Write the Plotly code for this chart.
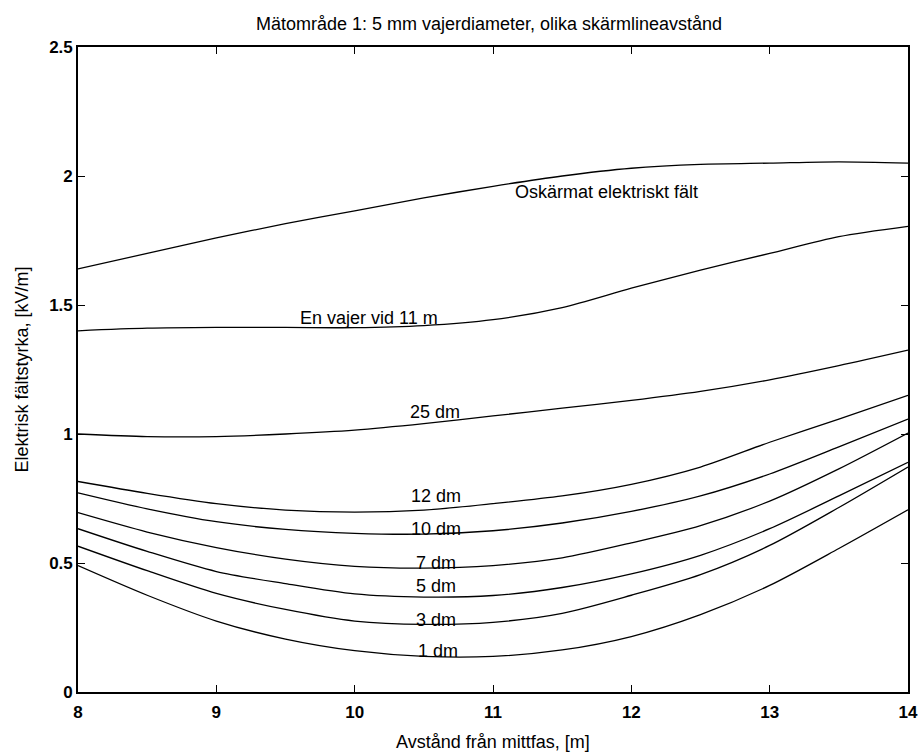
import plotly.graph_objects as go

x_vals = [8, 8.5, 9, 9.5, 10, 10.5, 11, 11.5, 12, 12.5, 13, 13.5, 14]

oskarmat = [1.64, 1.70, 1.76, 1.815, 1.865, 1.915, 1.96, 2.00, 2.03, 2.045, 2.05, 2.055, 2.05]
en_vajer = [1.40, 1.41, 1.413, 1.413, 1.412, 1.42, 1.443, 1.49, 1.565, 1.635, 1.70, 1.765, 1.805]
dm25 = [1.00, 0.99, 0.99, 1.00, 1.015, 1.04, 1.07, 1.10, 1.13, 1.165, 1.21, 1.265, 1.325]
dm12 = [0.816, 0.77, 0.73, 0.705, 0.697, 0.705, 0.73, 0.76, 0.805, 0.872, 0.968, 1.058, 1.15]
dm10 = [0.772, 0.71, 0.66, 0.63, 0.615, 0.612, 0.625, 0.655, 0.70, 0.76, 0.845, 0.95, 1.058]
dm7 = [0.695, 0.62, 0.56, 0.515, 0.487, 0.48, 0.49, 0.52, 0.578, 0.645, 0.74, 0.865, 1.004]
dm5 = [0.633, 0.545, 0.467, 0.42, 0.38, 0.368, 0.374, 0.405, 0.458, 0.53, 0.633, 0.76, 0.89]
dm3 = [0.565, 0.47, 0.382, 0.32, 0.275, 0.262, 0.27, 0.305, 0.375, 0.455, 0.568, 0.715, 0.872]
dm1 = [0.49, 0.375, 0.275, 0.205, 0.16, 0.138, 0.138, 0.163, 0.215, 0.30, 0.413, 0.556, 0.706]

series = [oskarmat, en_vajer, dm25, dm12, dm10, dm7, dm5, dm3, dm1]

label_texts = ["Oskärmat elektriskt fält", "En vajer vid 11 m", "25 dm", "12 dm",
               "10 dm", "7 dm", "5 dm", "3 dm", "1 dm"]
label_x = [11.82, 10.10, 10.58, 10.59, 10.59, 10.59, 10.59, 10.59, 10.6]
label_y = [1.938, 1.45, 1.085, 0.76, 0.63, 0.50, 0.41, 0.28, 0.158]

title_text = "Mätområde 1: 5 mm vajerdiameter, olika skärmlineavstånd"
x_title = "Avstånd från mittfas, [m]"
y_title = "Elektrisk fältstyrka, [kV/m]"
x_ticks = [8, 9, 10, 11, 12, 13, 14]
x_ticktext = ["8", "9", "10", "11", "12", "13", "14"]
y_ticks = [0, 0.5, 1, 1.5, 2, 2.5]
y_ticktext = ["0", "0.5", "1", "1.5", "2", "2.5"]

FONT = "Liberation Sans, Arial, Helvetica, sans-serif"

fig = go.Figure()
for s in series:
    fig.add_trace(go.Scatter(x=x_vals, y=s, mode="lines",
                             line=dict(color="black", width=1.3, shape="spline", smoothing=0.8),
                             showlegend=False, hoverinfo="skip"))

for t, lx, ly in zip(label_texts, label_x, label_y):
    fig.add_annotation(x=lx, y=ly, text=t, showarrow=False,
                       font=dict(family=FONT, size=18, color="black"),
                       xanchor="center", yanchor="middle")

# axis titles placed as paper annotations for exact positioning
fig.add_annotation(x=0.5, y=-0.0775, xref="paper", yref="paper", text=x_title,
                   showarrow=False, xanchor="center", yanchor="middle",
                   font=dict(family=FONT, size=18, color="black"))
fig.add_annotation(x=-0.0675, y=0.5, xref="paper", yref="paper", text=y_title,
                   showarrow=False, xanchor="center", yanchor="middle", textangle=-90,
                   font=dict(family=FONT, size=18, color="black"))

axis_common = dict(showgrid=False, zeroline=False, showline=True, linecolor="black",
                   linewidth=1.6, mirror="ticks", ticks="inside", ticklen=7,
                   tickcolor="black", tickwidth=1.3, automargin=False,
                   tickfont=dict(family=FONT, size=17, color="black"))

fig.update_xaxes(range=[8, 14], tickvals=x_ticks, ticklabelstandoff=4,
                 ticktext=["<b>%s</b>" % t for t in x_ticktext], **axis_common)
fig.update_yaxes(range=[0, 2.5], tickvals=y_ticks,
                 ticktext=["<b>%s</b>" % t for t in y_ticktext], **axis_common)

fig.update_layout(
    width=921, height=752,
    margin=dict(l=78, r=13, t=47, b=60),
    paper_bgcolor="white", plot_bgcolor="white",
    title=dict(text=title_text, x=0.531, xanchor="center", y=1 - 24 / 752, yanchor="middle",
               font=dict(family=FONT, size=18, color="black")),
)

fig.write_html("out.html", config={"displayModeBar": False},
               post_script="document.body.style.margin='0';document.body.style.overflow='hidden';")
